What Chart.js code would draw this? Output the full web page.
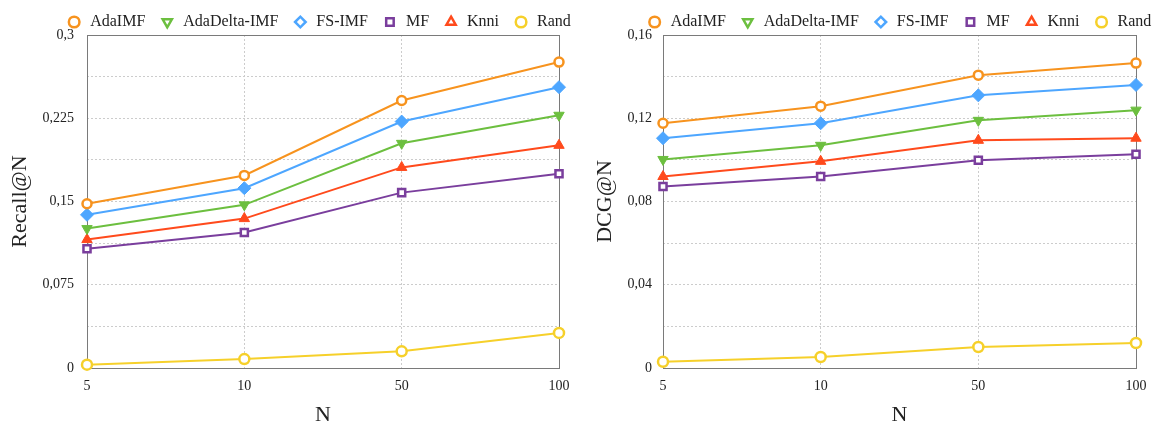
<!DOCTYPE html>
<html>
<head>
<meta charset="utf-8">
<script src="https://cdn.jsdelivr.net/npm/chart.js@4.4.1/dist/chart.umd.min.js"></script>
<style>
  html, body { margin: 0; padding: 0; background: #fff; }
  #wrap { display: flex; width: 1159px; height: 424px; }
  canvas { display: block; }
</style>
</head>
<body>
<div id="wrap">
  <canvas id="c1" width="580" height="424"></canvas>
  <canvas id="c2" width="579" height="424"></canvas>
</div>
<script>
// ---------- data ----------
const categories = ['5', '10', '50', '100'];
const seriesNames = ['AdaIMF', 'AdaDelta-IMF', 'FS-IMF', 'MF', 'Knni', 'Rand'];

const recallAdaIMF    = [0.148, 0.1735, 0.241, 0.2756];
const recallAdaDelta  = [0.1256, 0.147, 0.2024, 0.2277];
const recallFSIMF     = [0.138, 0.162, 0.222, 0.253];
const recallMF        = [0.1075, 0.122, 0.158, 0.175];
const recallKnni      = [0.1157, 0.1346, 0.1807, 0.2006];
const recallRand      = [0.003, 0.008, 0.015, 0.0316];

const dcgAdaIMF    = [0.1176, 0.1258, 0.1407, 0.1465];
const dcgAdaDelta  = [0.1002, 0.107, 0.119, 0.1239];
const dcgFSIMF     = [0.1104, 0.1176, 0.131, 0.136];
const dcgMF        = [0.0872, 0.092, 0.0998, 0.1027];
const dcgKnni      = [0.092, 0.0993, 0.1094, 0.1104];
const dcgRand      = [0.003, 0.0053, 0.0101, 0.012];

const recallTickLabels = ['0', '', '0,075', '', '0,15', '', '0,225', '', '0,3'];
const dcgTickLabels    = ['0', '', '0,04', '', '0,08', '', '0,12', '', '0,16'];

// ---------- styles ----------
const FONT = "'Liberation Serif', 'DejaVu Serif', serif";
const TEXT = '#222222';
const styles = [
  { color: '#F7931E', pointStyle: 'circle',   fill: '#ffffff', radius: 4.5, bw: 2.5, rot: 0 },
  { color: '#6CBF3F', pointStyle: 'triangle', fill: null,      radius: 6,   bw: 1,   rot: 180 },
  { color: '#4DA6FF', pointStyle: 'rectRot',  fill: null,      radius: 6.5, bw: 1,   rot: 0 },
  { color: '#7A3E9D', pointStyle: 'rect',     fill: '#ffffff', radius: 5,   bw: 2.5, rot: 0 },
  { color: '#FF4A1C', pointStyle: 'triangle', fill: null,      radius: 6,   bw: 1,   rot: 0 },
  { color: '#F6D02A', pointStyle: 'circle',   fill: '#ffffff', radius: 5,   bw: 2.5, rot: 0 }
];

function makeDatasets(arrays) {
  return arrays.map((data, i) => {
    const s = styles[i];
    return {
      label: seriesNames[i],
      data: data,
      borderColor: s.color,
      backgroundColor: s.color,
      borderWidth: 2,
      pointStyle: s.pointStyle,
      pointRadius: s.radius,
      pointHoverRadius: s.radius,
      pointBorderWidth: s.bw,
      pointBackgroundColor: s.fill || s.color,
      pointBorderColor: s.color,
      pointRotation: s.rot,
      tension: 0,
      clip: false
    };
  });
}

const frame = {
  id: 'frame',
  beforeDatasetsDraw(chart) {
    const a = chart.chartArea;
    const ctx = chart.ctx;
    ctx.save();
    ctx.strokeStyle = '#7a7a7a';
    ctx.lineWidth = 1;
    ctx.strokeRect(Math.round(a.left) + 0.5, Math.round(a.top) + 0.5,
                   Math.round(a.right - a.left), Math.round(a.bottom - a.top));
    ctx.restore();
  }
};

function legendShift(dx, dy) {
  return {
    id: 'legendShift',
    afterLayout(chart) {
      const lg = chart.legend;
      if (!lg) return;
      lg.left += dx; lg.right += dx;
      lg.top += dy; lg.bottom += dy;
    }
  };
}

function makeChart(id, arrays, opts) {
  return new Chart(document.getElementById(id), {
    type: 'line',
    data: { labels: categories, datasets: makeDatasets(arrays) },
    plugins: [frame, legendShift(opts.legendDx, 5)],
    options: {
      responsive: false,
      animation: false,
      layout: { padding: { left: 0, right: opts.padRight, top: -5, bottom: 0 } },
      plugins: {
        tooltip: { enabled: false },
        legend: {
          position: 'top',
          labels: {
            usePointStyle: true,
            boxHeight: 7.5,
            padding: 14,
            color: TEXT,
            font: { family: FONT, size: 16 },
            generateLabels(chart) {
              const items = Chart.defaults.plugins.legend.labels.generateLabels(chart);
              items.forEach(it => { it.fillStyle = '#ffffff'; it.lineWidth = 2.5; });
              return items;
            }
          }
        }
      },
      scales: {
        x: {
          type: 'category',
          offset: false,
          grid: { color: '#cccccc', lineWidth: 1, drawTicks: false },
          border: { display: false, dash: [2, 2] },
          ticks: { color: TEXT, font: { family: FONT, size: 14 }, padding: 10, maxRotation: 0 },
          title: { display: true, text: 'N', color: TEXT,
                   font: { family: FONT, size: 22, lineHeight: 0.8 }, padding: { top: 0, bottom: 0 } },
          afterFit(scale) { scale.height = 56; }
        },
        y: {
          min: 0,
          max: opts.max,
          grid: { color: '#cccccc', lineWidth: 1, drawTicks: false },
          border: { display: false, dash: [2, 2] },
          ticks: {
            stepSize: opts.step,
            color: TEXT,
            font: { family: FONT, size: 14 },
            padding: opts.tickPad,
            callback: (v, i) => opts.tickLabels[i]
          },
          title: { display: true, text: opts.yTitle, color: TEXT,
                   font: { family: FONT, size: 22, lineHeight: 1 }, padding: { top: opts.titlePad, bottom: 0 } },
          afterFit(scale) { scale.width = opts.yWidth; }
        }
      }
    }
  });
}

makeChart('c1',
  [recallAdaIMF, recallAdaDelta, recallFSIMF, recallMF, recallKnni, recallRand],
  { max: 0.3, step: 0.0375, tickLabels: recallTickLabels, yTitle: 'Recall@N',
    yWidth: 87, padRight: 21, tickPad: 13, titlePad: 9, legendDx: 39 });

makeChart('c2',
  [dcgAdaIMF, dcgAdaDelta, dcgFSIMF, dcgMF, dcgKnni, dcgRand],
  { max: 0.16, step: 0.02, tickLabels: dcgTickLabels, yTitle: 'DCG@N',
    yWidth: 83, padRight: 23, tickPad: 11, titlePad: 14, legendDx: 41 });
</script>
</body>
</html>
